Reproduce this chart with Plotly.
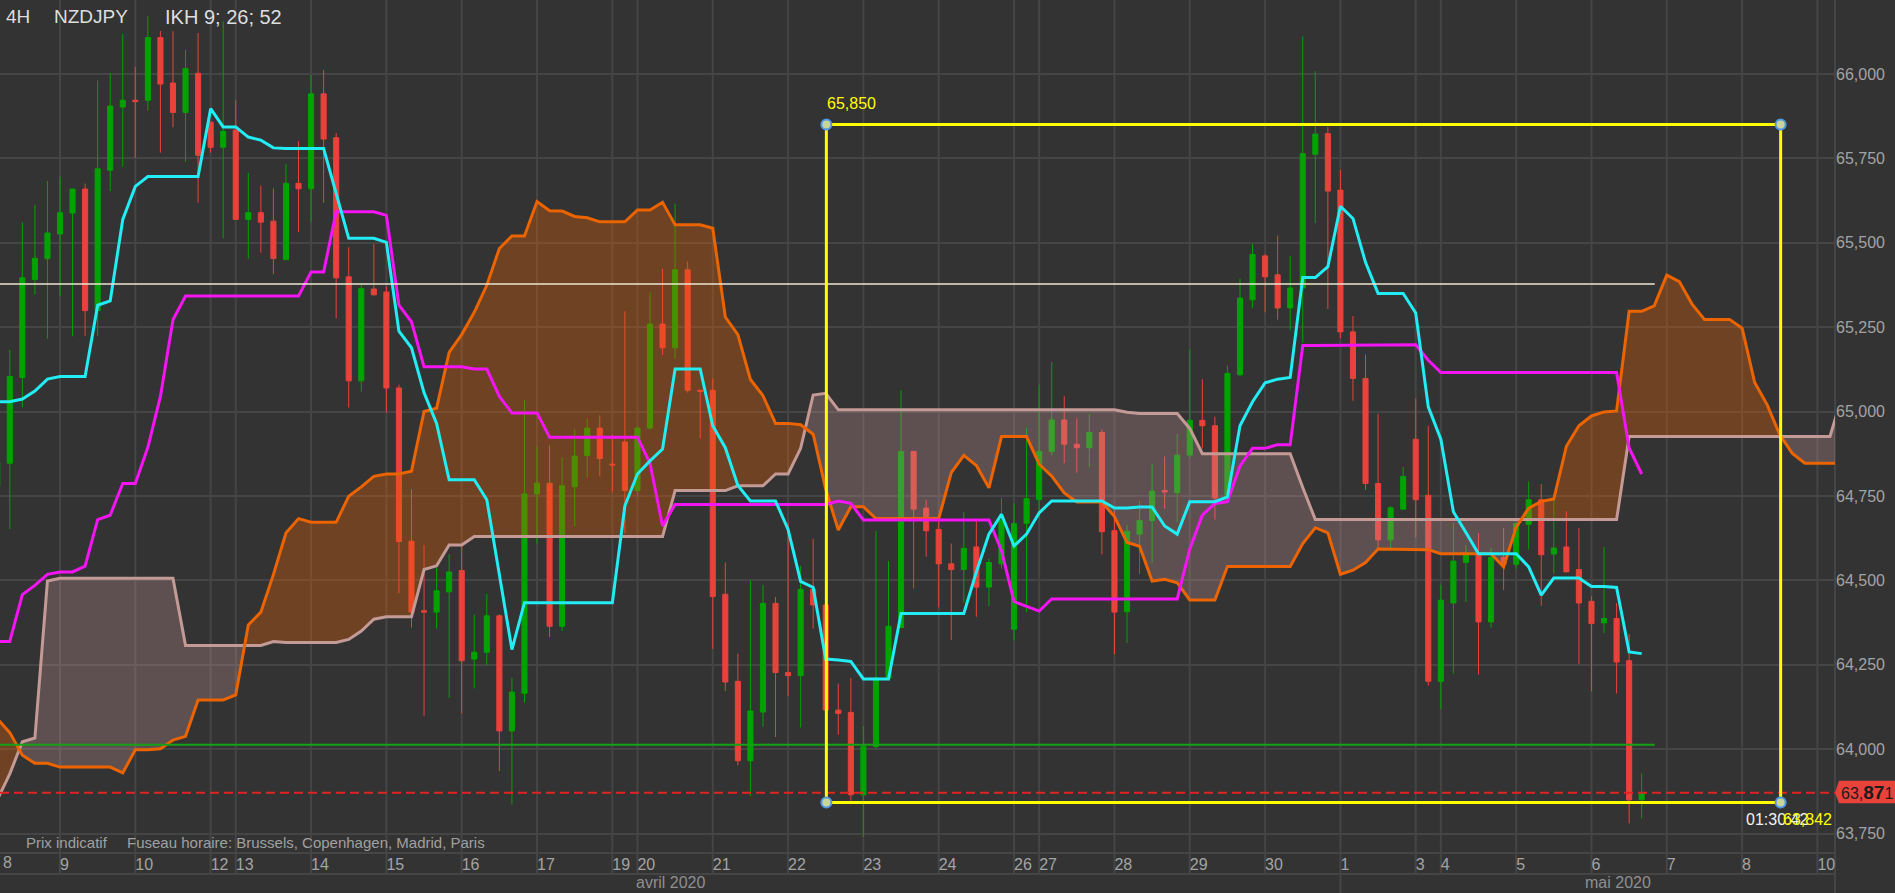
import plotly.graph_objects as go

# ---------------------------------------------------------------- data
# candle number 0 = first 4H bar of Thursday 9 April 2020
first_bar = -5

opens = [64.78, 64.847, 65.101, 65.391, 65.453,
         65.526, 65.588, 65.659, 65.299, 65.715, 65.902, 65.922, 65.922, 66.108, 65.973,
         65.886, 66.002, 65.857, 65.783, 65.834, 65.569, 65.589, 65.564, 65.45, 65.676,
         65.660, 65.941, 65.811, 65.399, 65.091, 65.363, 65.354, 65.070, 64.616, 64.410,
         64.406, 64.466, 64.529, 64.267, 64.287, 64.395, 64.054, 64.166, 64.756, 64.788,
         64.364, 64.777, 64.870, 64.951, 64.844, 64.910, 64.766, 64.951, 65.259, 65.189,
         65.420, 65.063, 65.063, 64.459, 64.201, 63.966, 64.110, 64.432, 64.227, 64.218,
         64.473, 64.427, 64.116, 64.109, 63.865, 64.008, 64.211, 64.360, 64.882, 64.714,
         64.651, 64.549, 64.532, 64.599, 64.480, 64.549, 64.355, 64.669, 64.739, 64.882,
         64.975, 64.903, 64.893, 64.938, 64.647, 64.407, 64.637, 64.677, 64.766, 64.760,
         64.871, 64.974, 64.958, 64.744, 65.109, 65.331, 65.461, 65.405, 65.307, 65.366,
         65.762, 65.823, 65.656, 65.236, 65.098, 64.787, 64.620, 64.711, 64.918, 64.752,
         64.201, 64.433, 64.553, 64.581, 64.377, 64.568, 64.548, 64.666, 64.739, 64.578,
         64.599, 64.532, 64.438, 64.374, 64.387, 64.262, 63.850]
highs = [64.87, 65.183, 65.561, 65.613, 65.683,
         65.696, 65.66, 65.675, 65.981, 66.002, 66.119, 66.021, 66.172, 66.127, 66.127,
         66.072, 66.121, 65.86, 66.156, 65.922, 65.707, 65.669, 65.661, 65.734, 65.801,
         65.997, 66.012, 65.825, 65.487, 65.374, 65.497, 65.371, 65.080, 64.770, 64.605,
         64.539, 64.578, 64.602, 64.399, 64.459, 64.40, 64.211, 65.034, 64.896, 64.900,
         64.864, 64.947, 64.979, 64.989, 64.931, 65.297, 64.955, 65.353, 65.423, 65.616,
         65.444, 65.065, 65.098, 64.553, 64.283, 64.500, 64.487, 64.451, 64.672, 64.543,
         64.623, 64.47, 64.194, 64.211, 64.068, 64.647, 64.557, 65.063, 64.882, 64.738,
         64.696, 64.609, 64.703, 64.679, 64.564, 64.745, 64.728, 64.952, 65.080, 65.147,
         65.045, 64.979, 64.993, 64.947, 64.707, 64.664, 64.736, 64.844, 64.867, 64.934,
         65.183, 65.096, 64.985, 65.136, 65.394, 65.497, 65.466, 65.521, 65.461, 66.111,
         66.008, 65.843, 65.715, 65.283, 65.169, 64.993, 64.72, 64.836, 65.038, 64.958,
         64.487, 64.670, 64.604, 64.640, 64.596, 64.655, 64.668, 64.793, 64.785, 64.739,
         64.705, 64.655, 64.453, 64.599, 64.433, 64.341, 63.928]
lows = [64.74, 64.652, 65.013, 65.347, 65.216,
        65.342, 65.223, 65.223, 65.223, 65.653, 65.726, 65.751, 65.891, 65.767, 65.842,
        65.740, 65.619, 65.767, 65.513, 65.569, 65.453, 65.470, 65.407, 65.45, 65.532,
        65.562, 65.618, 65.276, 65.012, 65.059, 65.343, 64.996, 64.462, 64.360, 64.099,
        64.357, 64.152, 64.106, 64.180, 64.248, 63.935, 63.836, 64.138, 64.609, 64.332,
        64.350, 64.661, 64.805, 64.809, 64.763, 64.640, 64.749, 64.947, 65.168, 65.157,
        65.056, 64.921, 64.297, 64.172, 63.952, 63.861, 64.067, 64.036, 64.158, 64.064,
        64.357, 64.08, 64.043, 63.847, 63.740, 64.001, 64.21, 64.360, 64.476, 64.570,
        64.420, 64.323, 64.434, 64.392, 64.424, 64.535, 64.322, 64.406, 64.686, 64.870,
        64.847, 64.819, 64.835, 64.577, 64.281, 64.315, 64.518, 64.553, 64.712, 64.672,
        64.863, 64.890, 64.680, 64.744, 65.104, 65.307, 65.294, 65.272, 65.240, 65.204,
        65.558, 65.304, 65.217, 65.032, 64.768, 64.593, 64.593, 64.71, 64.627, 64.188,
        64.119, 64.224, 64.436, 64.221, 64.360, 64.471, 64.535, 64.591, 64.425, 64.520,
        64.525, 64.252, 64.171, 64.344, 64.165, 63.780, 63.795]
closes = [64.85, 65.104, 65.396, 65.454, 65.529,
          65.589, 65.659, 65.299, 65.719, 65.905, 65.922, 65.918, 66.108, 65.970, 65.886,
          66.016, 65.759, 65.783, 65.830, 65.569, 65.589, 65.561, 65.453, 65.676, 65.660,
          65.941, 65.807, 65.396, 65.091, 65.364, 65.346, 65.070, 64.615, 64.406, 64.406,
          64.469, 64.525, 64.262, 64.287, 64.395, 64.054, 64.169, 64.756, 64.788, 64.364,
          64.780, 64.868, 64.951, 64.861, 64.842, 64.766, 64.951, 65.259, 65.189, 65.420,
          65.063, 65.060, 64.452, 64.199, 63.966, 64.113, 64.432, 64.227, 64.218, 64.473,
          64.427, 64.116, 64.106, 63.865, 64.008, 64.211, 64.364, 64.882, 64.711, 64.647,
          64.549, 64.532, 64.595, 64.480, 64.553, 64.679, 64.668, 64.742, 64.882, 64.975,
          64.903, 64.893, 64.938, 64.644, 64.406, 64.645, 64.677, 64.764, 64.762, 64.871,
          64.974, 64.958, 64.744, 65.113, 65.336, 65.465, 65.399, 65.307, 65.366, 65.764,
          65.822, 65.653, 65.236, 65.098, 64.787, 64.620, 64.715, 64.808, 64.739, 64.201,
          64.441, 64.557, 64.581, 64.377, 64.568, 64.548, 64.668, 64.739, 64.576, 64.596,
          64.525, 64.433, 64.372, 64.387, 64.258, 63.850, 63.871]

# Ichimoku (9; 26; 52)
tenkan = [65.029, 65.029, 65.037, 65.061, 65.096,
          65.104, 65.104, 65.104, 65.315, 65.328, 65.569, 65.667, 65.696, 65.696, 65.696,
          65.696, 65.696, 65.897, 65.843, 65.843, 65.813, 65.804, 65.781, 65.779, 65.779,
          65.779, 65.779, 65.646, 65.513, 65.513, 65.513, 65.501, 65.238, 65.189, 65.056,
          64.965, 64.798, 64.798, 64.798, 64.739, 64.52, 64.295, 64.434, 64.434, 64.434,
          64.434, 64.434, 64.434, 64.434, 64.434, 64.721, 64.815, 64.854, 64.889, 65.126,
          65.126, 65.126, 64.958, 64.893, 64.781, 64.735, 64.735, 64.735, 64.651, 64.497,
          64.479, 64.267, 64.264, 64.260, 64.208, 64.208, 64.208, 64.402, 64.402, 64.402,
          64.402, 64.402, 64.402, 64.525, 64.637, 64.696, 64.602, 64.637, 64.700, 64.735,
          64.735, 64.735, 64.735, 64.735, 64.714, 64.714, 64.717, 64.717, 64.661, 64.637,
          64.733, 64.733, 64.733, 64.747, 64.958, 65.029, 65.085, 65.096, 65.101, 65.397,
          65.397, 65.429, 65.608, 65.572, 65.442, 65.350, 65.350, 65.350, 65.292, 65.014,
          64.918, 64.703, 64.642, 64.579, 64.579, 64.579, 64.579, 64.540, 64.456, 64.507,
          64.507, 64.507, 64.482, 64.482, 64.479, 64.288, 64.283]
kijun = [64.319, 64.319, 64.458, 64.485, 64.518,
         64.525, 64.525, 64.542, 64.680, 64.693, 64.787, 64.787, 64.894, 65.045, 65.272,
         65.342, 65.342, 65.342, 65.342, 65.342, 65.342, 65.342, 65.342, 65.342, 65.342,
         65.413, 65.413, 65.592, 65.592, 65.592, 65.592, 65.581, 65.315, 65.266, 65.133,
         65.133, 65.133, 65.133, 65.126, 65.126, 65.045, 64.996, 64.996, 64.996, 64.924,
         64.924, 64.924, 64.924, 64.924, 64.924, 64.924, 64.924, 64.847, 64.661, 64.725,
         64.725, 64.725, 64.725, 64.725, 64.725, 64.725, 64.725, 64.725, 64.725, 64.725,
         64.725, 64.725, 64.735, 64.728, 64.679, 64.679, 64.679, 64.679, 64.679, 64.679,
         64.679, 64.679, 64.679, 64.679, 64.679, 64.588, 64.437, 64.423, 64.409, 64.445,
         64.445, 64.445, 64.445, 64.445, 64.445, 64.445, 64.445, 64.445, 64.445, 64.445,
         64.593, 64.693, 64.728, 64.733, 64.839, 64.891, 64.891, 64.902, 64.902, 65.196,
         65.196, 65.196, 65.196, 65.196, 65.196, 65.196, 65.196, 65.196, 65.198, 65.152,
         65.116, 65.116, 65.116, 65.116, 65.116, 65.116, 65.116, 65.116, 65.116, 65.116,
         65.116, 65.116, 65.116, 65.116, 65.116, 64.892, 64.815]
senkou_a = [64.09, 64.049, 63.982, 63.958, 63.958,
            63.947, 63.947, 63.947, 63.947, 63.947, 63.930, 63.998, 63.998, 64.001, 64.027,
            64.038, 64.146, 64.146, 64.146, 64.161, 64.368, 64.406, 64.517, 64.640, 64.683,
            64.672, 64.672, 64.672, 64.749, 64.777, 64.808, 64.815, 64.815, 64.823, 65.000,
            65.010, 65.175, 65.228, 65.294, 65.374, 65.483, 65.520, 65.520, 65.622, 65.595,
            65.594, 65.578, 65.574, 65.562, 65.562, 65.562, 65.597, 65.597, 65.620, 65.553,
            65.553, 65.553, 65.543, 65.280, 65.228, 65.095, 65.047, 64.965, 64.965, 64.961,
            64.933, 64.770, 64.649, 64.718, 64.718, 64.683, 64.683, 64.683, 64.683, 64.683,
            64.683, 64.819, 64.870, 64.840, 64.774, 64.926, 64.926, 64.926, 64.844, 64.809,
            64.759, 64.732, 64.732, 64.732, 64.689, 64.612, 64.601, 64.498, 64.503, 64.493,
            64.442, 64.442, 64.442, 64.541, 64.541, 64.541, 64.541, 64.541, 64.541, 64.609,
            64.656, 64.641, 64.518, 64.530, 64.553, 64.593, 64.593, 64.591, 64.591, 64.591,
            64.579, 64.579, 64.579, 64.579, 64.579, 64.540, 64.657, 64.714, 64.734, 64.741,
            64.897, 64.958, 64.987, 64.999, 65.002, 65.297, 65.297, 65.313, 65.404, 65.385,
            65.319, 65.273, 65.273, 65.273, 65.247, 65.086, 65.020, 64.931, 64.876, 64.847,
            64.847, 64.847, 64.847]
senkou_b = [63.85, 63.927, 64.022, 64.033, 64.498,
            64.506, 64.506, 64.506, 64.506, 64.506, 64.506, 64.506, 64.506, 64.506, 64.506,
            64.307, 64.307, 64.307, 64.307, 64.307, 64.307, 64.307, 64.319, 64.316, 64.316,
            64.316, 64.316, 64.316, 64.325, 64.350, 64.385, 64.392, 64.392, 64.392, 64.532,
            64.543, 64.605, 64.605, 64.630, 64.630, 64.630, 64.630, 64.630, 64.630, 64.630,
            64.630, 64.630, 64.630, 64.630, 64.630, 64.630, 64.630, 64.630, 64.630, 64.766,
            64.766, 64.766, 64.766, 64.766, 64.780, 64.780, 64.780, 64.815, 64.815, 64.891,
            65.049, 65.054, 65.005, 65.005, 65.005, 65.005, 65.005, 65.005, 65.005, 65.005,
            65.005, 65.005, 65.005, 65.005, 65.005, 65.005, 65.005, 65.005, 65.005, 65.005,
            65.005, 65.005, 65.005, 65.005, 65.005, 64.998, 64.994, 64.994, 64.994, 64.994,
            64.950, 64.875, 64.875, 64.875, 64.875, 64.875, 64.875, 64.875, 64.875, 64.775,
            64.680, 64.680, 64.680, 64.680, 64.680, 64.680, 64.680, 64.680, 64.680, 64.680,
            64.680, 64.680, 64.680, 64.680, 64.680, 64.680, 64.680, 64.680, 64.680, 64.680,
            64.680, 64.680, 64.680, 64.680, 64.680, 64.926, 64.926, 64.926, 64.926, 64.926,
            64.926, 64.926, 64.926, 64.926, 64.926, 64.926, 64.926, 64.926, 64.926, 64.926,
            64.926, 64.926, 65.05]

# calendar of the x axis (trading days and their number of 4H bars)
day_labels = ['8', '9', '10', '12', '13', '14', '15', '16', '17', '19', '20', '21', '22', '23',
              '24', '26', '27', '28', '29', '30', '1', '3', '4', '5', '6', '7', '8', '10']
day_bars = [6, 6, 6, 2, 6, 6, 6, 6, 6, 2, 6, 6, 6, 6, 6, 2, 6, 6, 6, 6, 6, 2, 6, 6, 6, 6, 6, 2]
first_day_bar = -6
month_labels = ['avril 2020', 'mai 2020']
month_first_day = ['9', '1']

# drawings / levels
last_price = 63.871
white_level = 65.378
green_level = 64.013
levels_end_bar = 127.04
box_top, box_bottom = 65.850, 63.842
box_left_bar, box_right_bar = 61.05, 137.07
countdown = '01:30:42'
yticks = [63.75, 64.0, 64.25, 64.5, 64.75, 65.0, 65.25, 65.5, 65.75, 66.0]

# ---------------------------------------------------------------- style
W, H = 1895, 893
ML, MR, MT, MB = 0, 60, 0, 40
PW, PH = W - ML - MR, H - MT - MB
XR = [-4.78, 141.4]
YR = [63.6925, 66.219]
BG = '#333333'
GRID = '#454545'
UP = '#00a300'
DOWN = '#e8423a'
FONT = 'Liberation Sans, Arial, sans-serif'
LBL = '#a3a3a3'

def py(px_from_top):
    return 1 - px_from_top / PH

def pyv(v):
    return (v - YR[0]) / (YR[1] - YR[0])

xc = list(range(first_bar, first_bar + len(opens)))
xt = list(range(first_bar, first_bar + len(tenkan)))
xk = list(range(first_bar, first_bar + len(kijun)))
xs = list(range(first_bar, first_bar + len(senkou_a)))

fig = go.Figure()
fig.add_trace(go.Candlestick(
    x=xc, open=opens, high=highs, low=lows, close=closes,
    increasing=dict(line=dict(color=UP, width=1), fillcolor=UP),
    decreasing=dict(line=dict(color=DOWN, width=1), fillcolor=DOWN),
    whiskerwidth=0, showlegend=False, hoverinfo='skip'))

# --- kumo (two colours, split at crossings)
pts = []
for i in range(len(xs)):
    a, b = senkou_a[i], senkou_b[i]
    pts.append((xs[i], a, b))
    if i + 1 < len(xs):
        d0 = a - b
        d1 = senkou_a[i + 1] - senkou_b[i + 1]
        if d0 * d1 < 0:
            t = d0 / (d0 - d1)
            yc = a + t * (senkou_a[i + 1] - a)
            pts.append((xs[i] + t * (xs[i + 1] - xs[i]), yc, yc))
segments = []
cur, cur_sign = [], None
for p in pts:
    d = p[1] - p[2]
    if d == 0:
        cur.append(p)
        if cur_sign is not None and len(cur) > 1:
            segments.append((cur_sign, cur))
        cur, cur_sign = [p], None
    else:
        if cur_sign is None:
            cur_sign = d > 0
        cur.append(p)
if cur_sign is not None and len(cur) > 1:
    segments.append((cur_sign, cur))

def polys(sign):
    X, Y = [], []
    for s, seg in segments:
        if s != sign:
            continue
        sx = [p[0] for p in seg]
        X += sx + sx[::-1] + [None]
        Y += [p[1] for p in seg] + [p[2] for p in seg][::-1] + [None]
    return X, Y

for sign, col in [(True, 'rgba(235,100,0,0.32)'), (False, 'rgba(196,150,148,0.30)')]:
    X, Y = polys(sign)
    fig.add_trace(go.Scatter(x=X, y=Y, mode='lines', fill='toself', fillcolor=col,
                             line=dict(width=0), hoverinfo='skip', showlegend=False))

fig.add_trace(go.Scatter(x=xs, y=senkou_b, mode='lines', line=dict(color='#c49a96', width=3),
                         hoverinfo='skip', showlegend=False))
fig.add_trace(go.Scatter(x=xs, y=senkou_a, mode='lines', line=dict(color='#eb6400', width=3),
                         hoverinfo='skip', showlegend=False))
fig.add_trace(go.Scatter(x=xk, y=kijun, mode='lines', line=dict(color='#f414f4', width=3),
                         hoverinfo='skip', showlegend=False))
fig.add_trace(go.Scatter(x=xt, y=tenkan, mode='lines', line=dict(color='#22ecf4', width=3),
                         hoverinfo='skip', showlegend=False))

# ---------------------------------------------------------------- axis calendar
day_starts = []
pos = first_day_bar
for n in day_bars:
    day_starts.append(pos)
    pos += n
vis = [(d, l) for d, l in zip(day_starts, day_labels) if XR[0] <= d <= XR[1]]
may_start = day_starts[day_labels.index(month_first_day[1], 2)]

row1 = -21 / PH
row2 = -MB / PH
shapes = []
for d, l in vis:
    shapes.append(dict(type='line', xref='x', yref='paper', x0=d, x1=d, y0=row2 if d == may_start else row1,
                       y1=1, line=dict(color=GRID, width=2), layer='below'))
shapes.append(dict(type='line', xref='paper', yref='paper', x0=0, x1=1, y0=0, y1=0,
                   line=dict(color=GRID, width=2), layer='below'))
shapes.append(dict(type='line', xref='paper', yref='paper', x0=0, x1=1, y0=row1, y1=row1,
                   line=dict(color=GRID, width=2), layer='below'))
shapes.append(dict(type='line', xref='paper', yref='paper', x0=1, x1=1, y0=row2, y1=1,
                   line=dict(color=GRID, width=2), layer='below'))

# horizontal drawings
shapes.append(dict(type='line', xref='x', yref='y', x0=XR[0] - 2, x1=levels_end_bar, y0=white_level,
                   y1=white_level, line=dict(color='#ebe7d2', width=1.5), layer='above'))
shapes.append(dict(type='line', xref='x', yref='y', x0=XR[0] - 2, x1=levels_end_bar, y0=green_level,
                   y1=green_level, line=dict(color='#16a016', width=2), layer='above'))
shapes.append(dict(type='line', xref='paper', yref='y', x0=0, x1=1, y0=last_price, y1=last_price,
                   line=dict(color='#e02420', width=2, dash='9px,5px'), layer='above'))
# yellow rectangle + handles
shapes.append(dict(type='rect', xref='x', yref='y', x0=box_left_bar, x1=box_right_bar, y0=box_bottom,
                   y1=box_top, line=dict(color='#ffff00', width=3), fillcolor='rgba(0,0,0,0)', layer='above'))
for hx in (box_left_bar, box_right_bar):
    for hy in (box_bottom, box_top):
        shapes.append(dict(type='circle', xref='x', yref='y', xsizemode='pixel', ysizemode='pixel',
                           xanchor=hx, yanchor=hy, x0=-5, x1=5, y0=-5, y1=5,
                           fillcolor='#c8d49a', line=dict(color='#4f97e6', width=2), layer='above'))
# last-price tag
t_top, t_bot, t_mid = pyv(last_price + 0.0357), pyv(last_price - 0.0313), pyv(last_price)
x_l, x_r = 1 + 4 / PW, W / PW
shapes.append(dict(type='path', xref='paper', yref='paper',
                   path=f'M 1,{t_mid} L {x_l},{t_top} L {x_r},{t_top} L {x_r},{t_bot} L {x_l},{t_bot} Z',
                   fillcolor=DOWN, line=dict(width=0), layer='above'))

ann = []
def text(x, y, s, size=16, color=LBL, xref='paper', yref='paper', xanchor='left', **kw):
    ann.append(dict(x=x, y=y, xref=xref, yref=yref, text=s, showarrow=False, xanchor=xanchor,
                    yanchor='middle', font=dict(family=FONT, size=size, color=color), **kw))

for xpx, s, fs in [(4, '4H', 19), (52, 'NZDJPY', 19), (163, 'IKH 9; 26; 52', 20)]:
    text(xpx / PW, py(17), s, size=fs, color='#dedede')
text(24 / PW, py(842), 'Prix indicatif', size=15, color='#a0a0a0')
text(125 / PW, py(842), 'Fuseau horaire: Brussels, Copenhagen, Madrid, Paris', size=15, color='#a0a0a0')
text(0.5 / PW, py(863), day_labels[0], size=16)
right_edge_bar = XR[0] + W / PW * (XR[1] - XR[0])
text((XR[0] + may_start) / 2, py(883), month_labels[0], size=16, color='#8f8f8f', xref='x', xanchor='center')
text((may_start + right_edge_bar) / 2, py(883), month_labels[1], size=16, color='#8f8f8f', xref='x', xanchor='center')
text(box_left_bar, box_top, '65,850', size=16, color='#ffff00', xref='x', yref='y', yshift=21, xshift=-1)
text(box_right_bar - 0.3, box_bottom, countdown, size=16, color='#f2f2f2', xref='x', yref='y',
     xanchor='center', yshift=-17)
text(box_right_bar, box_bottom, '63,842', size=16, color='#ffff00', xref='x', yref='y', yshift=-17, xshift=0)
text(x_l, t_mid, "63,<b><span style='font-size:19px'>87</span></b>1", size=16, color='#1c1c1c')

fig.update_layout(
    width=W, height=H, margin=dict(l=ML, r=MR, t=MT, b=MB, pad=0),
    paper_bgcolor=BG, plot_bgcolor='rgba(0,0,0,0)', showlegend=False, hovermode=False,
    boxgap=0.42, separators=', ',
    shapes=shapes, annotations=ann,
    xaxis=dict(range=XR, showgrid=False, zeroline=False, showline=False, ticks='',
               tickvals=[d for d, l in vis], ticktext=[l for d, l in vis], tickangle=0,
               ticklabelposition='outside right', tickfont=dict(family=FONT, size=16, color=LBL),
               rangeslider=dict(visible=False), fixedrange=True),
    yaxis=dict(range=YR, side='right', showgrid=True, gridcolor=GRID, gridwidth=2, zeroline=False,
               showline=False, ticks='', tickvals=yticks, tickformat='.3f',
               tickfont=dict(family=FONT, size=16, color=LBL), fixedrange=True),
)
fig.write_html('out.html', config={'displayModeBar': False},
               post_script="document.body.style.margin='0';document.body.style.padding='0';"
                           "document.body.style.backgroundColor='#333333';"
                           "document.documentElement.style.overflow='hidden';")
